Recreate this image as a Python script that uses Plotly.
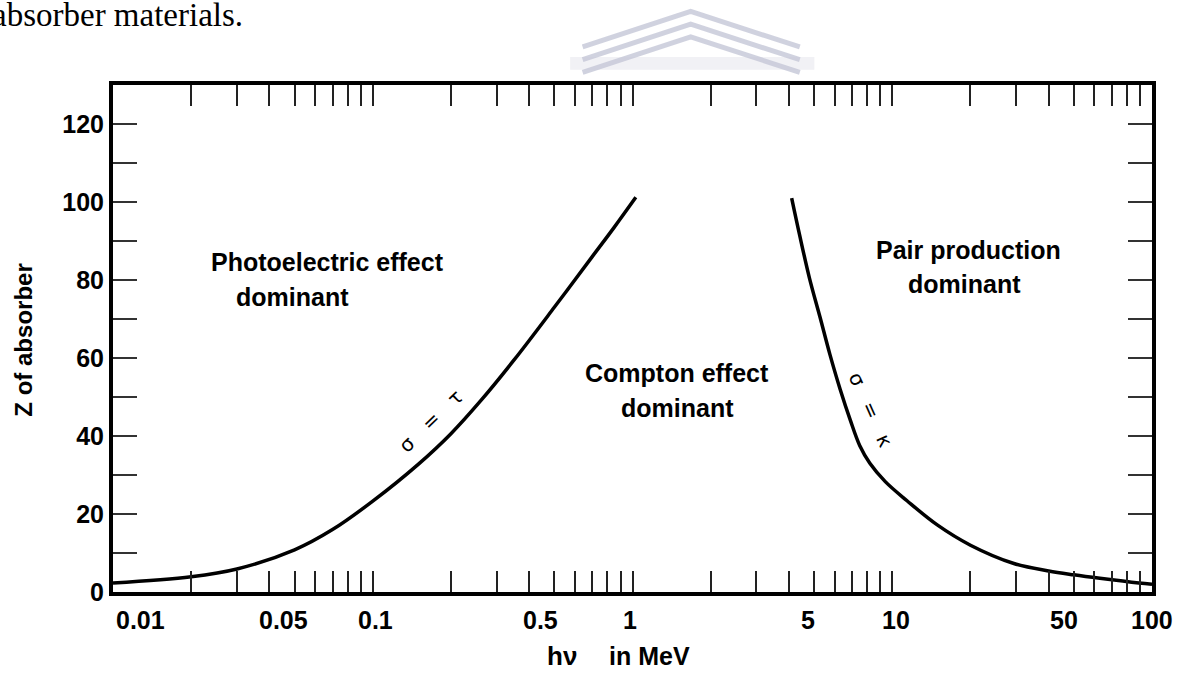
import math
import plotly.graph_objects as go

# ---------------- data ----------------
photo_energy = [0.01, 0.02, 0.03, 0.05, 0.07, 0.1, 0.15, 0.2, 0.26, 0.35, 0.5, 0.7, 0.85, 1.03]
photo_z = [2.3, 3.9, 5.9, 10.8, 16.0, 23.3, 32.8, 40.6, 49.0, 59.5, 73.0, 86.0, 93.5, 101.2]

pair_energy = [4.1, 4.4, 4.8, 5.27, 5.75, 6.3, 6.9, 7.5, 8.2, 9.4, 11.4, 14.9, 20, 29.4, 40, 50, 63, 89, 100]
pair_z = [101.0, 91.5, 80.5, 70.5, 61.0, 52.0, 44.0, 37.5, 33.0, 28.3, 23.4, 17.2, 12.0, 7.3, 5.4, 4.4, 3.5, 2.3, 2.0]

x_tick_labels = ["0.01", "0.05", "0.1", "0.5", "1", "5", "10", "50", "100"]
x_tick_label_values = [0.01, 0.05, 0.1, 0.5, 1, 5, 10, 50, 100]
x_minor_ticks = [m * 10 ** d for d in range(-2, 2) for m in range(1, 10)] + [100]

y_tick_values = list(range(0, 130, 10))
y_tick_text = [str(v) if v % 20 == 0 else "" for v in y_tick_values]

# ---------------- style ----------------
BOLD = dict(family="Liberation Sans, Arial, sans-serif", size=25, color="black", weight="bold")
THIN = dict(family="DejaVu Sans, sans-serif", size=20, color="black")
label_xshift = {"0.01": 27, "0.05": -11, "0.1": 3, "0.5": -14, "1": -3, "5": -6, "10": 4, "50": -10, "100": 0}
NB = "\u00a0" * 3

fig = go.Figure()
for xs, ys in ((photo_energy, photo_z), (pair_energy, pair_z)):
    fig.add_trace(go.Scatter(x=xs, y=ys, mode="lines",
                             line=dict(color="black", width=3.5, shape="spline", smoothing=1.0),
                             showlegend=False, hoverinfo="skip"))

annotations = []
for txt, val in zip(x_tick_labels, x_tick_label_values):
    annotations.append(dict(x=math.log10(val), xref="x", y=0, yref="paper",
                            xanchor="center", yanchor="middle",
                            yshift=-28, xshift=label_xshift[txt], text=txt, showarrow=False,
                            font=BOLD))

def ann(text, x, y, **kw):
    d = dict(x=x, y=y, xref="paper", yref="paper", text=text, showarrow=False, font=BOLD,
             xanchor="center", yanchor="middle")
    d.update(kw)
    annotations.append(d)

ann("Photoelectric effect", 0.206, 0.651)
ann("dominant", 0.173, 0.582)
ann("Compton effect", 0.543, 0.432)
ann("dominant", 0.543, 0.363)
ann("Pair production", 0.823, 0.675)
ann("dominant", 0.820, 0.607)
ann("Z of absorber", -0.087, 0.497, textangle=-90, font=dict(BOLD, size=24))
ann("hν", 0.432, -0.126, font=dict(BOLD, size=26))
ann("in MeV", 0.516, -0.126)
ann("σ" + NB + "=" + NB + "τ", 0.306, 0.337, textangle=-44, font=THIN)
ann("σ" + NB + "=" + NB + "κ", 0.7295, 0.359, textangle=66, font=THIN)
ann("absorber materials.", -0.118, 1.178, xanchor="left", yanchor="top",
    font=dict(family="Liberation Serif, Times New Roman, serif", size=33, color="black"))

# faint watermark chevrons at top centre
shapes = []
wm_color = "rgba(150,155,185,0.45)"
for dy in (0.0, 0.025, 0.05):
    y_peak = 1.145 - dy
    y_end = 1.075 - dy
    shapes.append(dict(type="path", xref="paper", yref="paper",
                       path=f"M 0.452 {y_end} L 0.556 {y_peak} L 0.661 {y_end}",
                       line=dict(color=wm_color, width=5)))
shapes.append(dict(type="rect", xref="paper", yref="paper", x0=0.44, x1=0.675, y0=1.03, y1=1.055,
                   line=dict(width=0), fillcolor="rgba(200,200,215,0.25)"))

fig.update_layout(
    width=1183, height=677,
    margin=dict(l=113, r=31, t=85, b=85),
    paper_bgcolor="white", plot_bgcolor="white",
    annotations=annotations, shapes=shapes,
    xaxis=dict(type="log", range=[-2, 2], tickvals=x_minor_ticks, showticklabels=False,
               ticks="inside", ticklen=21, tickwidth=2, tickcolor="#222",
               showline=True, linecolor="black", linewidth=4, mirror="ticks",
               showgrid=False, zeroline=False),
    yaxis=dict(range=[0, 130], tickvals=y_tick_values, ticktext=y_tick_text,
               ticks="inside", ticklen=24, tickwidth=2, tickcolor="#333",
               showline=True, linecolor="black", linewidth=4, mirror="ticks",
               showgrid=False, zeroline=False, tickfont=BOLD),
)

fig.write_html("out.html")
